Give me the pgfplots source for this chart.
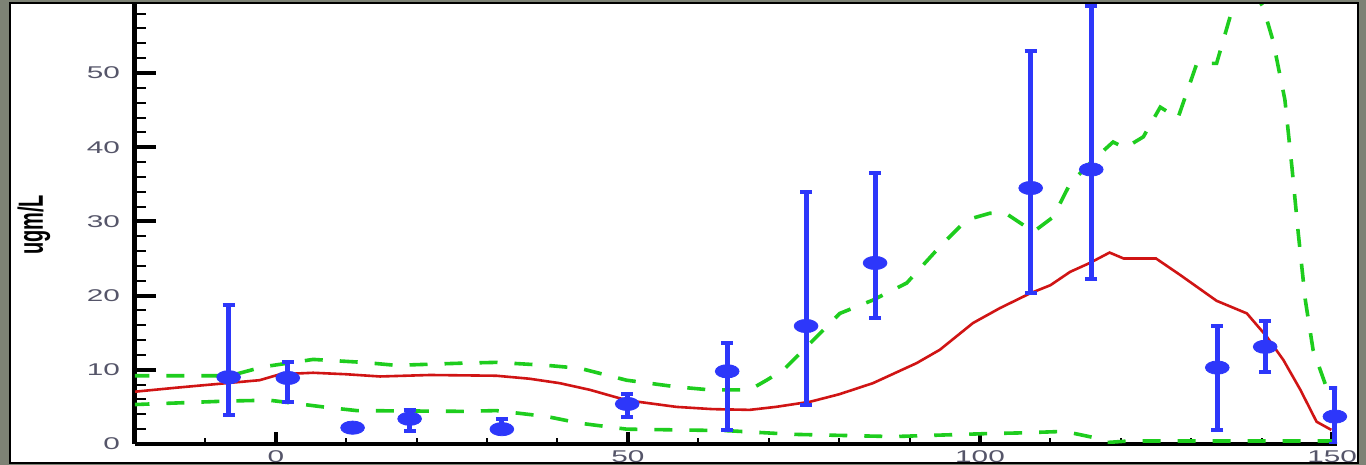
\documentclass[border=0pt]{standalone}
\usepackage{fontspec}
\setmainfont{Liberation Sans}
\usepackage{pgfplots}
\pgfplotsset{compat=1.18}
\definecolor{bgray}{RGB}{125,130,117}
\definecolor{mred}{RGB}{208,20,20}
\definecolor{mgreen}{RGB}{30,205,30}
\definecolor{mblue}{RGB}{45,55,250}
\definecolor{tlab}{RGB}{85,85,105}
\begin{document}
\begin{tikzpicture}
\path[use as bounding box] (0pt,0pt) rectangle (683pt,232.5pt);
\fill[bgray] (0pt,0pt) rectangle (683pt,232.5pt);
\draw[black, line width=1pt, fill=white] (5pt,1pt) rectangle (679pt,231pt);
\node[font=\fontsize{10}{12}\selectfont\bfseries, inner sep=0pt] at (17pt,120pt) {\rotatebox{90}{\scalebox{1}[1.75]{ugm/L}}};
\begin{axis}[
  at={(67.5pt,10.5pt)}, anchor=south west,
  scale only axis, width=601pt, height=220pt,
  xmin=-20, xmax=150.7, ymin=0, ymax=59.3,
  axis x line*=bottom, axis y line*=left,
  x axis line style={line width=2pt, -},
  y axis line style={line width=2.5pt, -},
  tick align=inside,
  xtick={0,50,100,150}, minor xtick={-10,0,...,150},
  ytick={0,10,...,50}, minor ytick={0,2,...,58},
  major tick length=10.5pt, minor tick length=5.5pt,
  xtick style={/pgfplots/major tick length=6pt, /pgfplots/minor tick length=3pt},
  major tick style={line width=2pt, black},
  minor tick style={line width=1pt, black},
  ticklabel style={font=\fontsize{8.5}{10}\selectfont, text=tlab},
  /pgf/number format/assume math mode=true,
  xticklabel={\scalebox{1.75}[1]{\pgfmathprintnumber{\tick}}},
  yticklabel={\scalebox{1.75}[1]{\pgfmathprintnumber{\tick}}},
  yticklabel style={xshift=-4pt},
  clip=true,
]
\addplot[mgreen, line width=1.8pt, dash pattern=on 9pt off 8.5pt] table {
x y
-20.5 9.2
-6.5 9.2
-1.8 10.4
5.3 11.4
12.4 11.0
17.1 10.6
26.6 10.9
31.3 11.0
38.5 10.6
43.2 10.2
49.8 8.6
56.9 7.7
61.6 7.3
67.3 7.3
69.7 8.6
72.1 10.0
75.9 13.6
80.1 17.6
84.8 19.4
89.6 21.7
94.3 26.6
98.1 30.2
101.4 31.1
103.8 31.0
107.6 28.6
110.4 30.6
112.8 35.1
116.1 38.3
118.9 40.7
120.6 39.9
123.2 41.4
125.6 45.4
128.1 43.9
130.8 51.3
133.6 51.3
135.8 58.5
138.0 62.5
140.2 58.9
141.6 54.4
143.3 46.4
144.3 37.3
145.2 28.4
146.2 19.4
147.3 12.7
149.7 6.3
};
\addplot[mgreen, line width=1.8pt, dash pattern=on 9pt off 8.5pt] table {
x y
-20.5 5.3
-6.5 5.8
-0.9 5.9
6.7 5.0
11.5 4.5
26.6 4.4
31.3 4.5
38.5 3.7
43.2 2.8
49.8 2.0
64.0 1.8
73.5 1.3
87.7 1.0
101.0 1.4
106.0 1.5
112.0 1.7
116.0 0.9
118.0 0.2
121.0 0.4
135.0 0.4
150.0 0.4
};
\addplot[mred, line width=1.3pt] table {
x y
-20 7.05
-14 7.6
-7 8.2
-2.3 8.6
0.6 9.4
5.3 9.6
10 9.4
14.8 9.1
21.9 9.3
31.3 9.2
36 8.8
40.3 8.2
44.6 7.3
49.8 5.9
56.9 5.0
62 4.7
67.3 4.6
71 5.0
75.9 5.7
80 6.7
84.8 8.2
91 10.9
94.3 12.7
99 16.3
102.8 18.3
107.1 20.3
110 21.4
112.8 23.2
115.6 24.4
118.4 25.8
120.4 25.0
125 25.0
128.4 22.8
133.6 19.3
137.9 17.6
140.7 14.5
143.1 11.3
145.5 7.3
147.8 3.0
149.9 1.9
};
\addplot[mblue, only marks, mark=*, mark size=3.3pt,
  mark options={xscale=1.8, fill=mblue, draw=mblue},
  error bars/.cd, y dir=both, y explicit,
  error bar style={line width=2.5pt, mblue},
  error mark options={rotate=90, mark size=3pt, line width=2pt, mblue}]
  table[x=x, y=y, y error plus=ep, y error minus=em] {
x y ep em
-6.7 9.0 9.7 5.1
1.7 8.9 2.2 3.3
10.9 2.2 0 0
19.0 3.4 1.2 1.6
32.1 2.0 1.4 0
49.9 5.4 1.3 1.7
64.1 9.8 3.8 7.9
75.3 15.9 18.1 10.7
85.1 24.4 12.1 7.4
107.2 34.5 18.5 14.1
115.8 37.0 22.0 14.7
133.7 10.3 5.6 8.4
140.5 13.1 3.5 3.4
150.4 3.7 3.8 3.7
};
\end{axis}
\end{tikzpicture}
\end{document}
